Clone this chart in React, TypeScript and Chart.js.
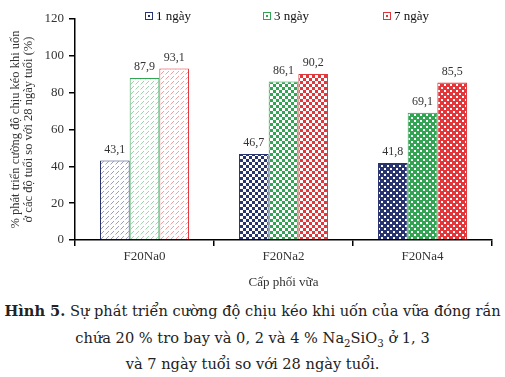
import React, { useEffect, useRef } from "react";
import { Chart, registerables } from "chart.js";

Chart.register(...registerables);

const categories = ["F20Na0", "F20Na2", "F20Na4"];
const seriesNames = ["1 ngày", "3 ngày", "7 ngày"];
const day1 = [43.1, 46.7, 41.8];
const day3 = [87.9, 86.1, 69.1];
const day7 = [93.1, 90.2, 85.5];
const yMin = 0;
const yMax = 120;
const yStep = 20;
const yTitleLines = ["% phát triển cường độ chịu kéo khi uốn", "ở các độ tuổi so với 28 ngày tuổi (%)"];
const xTitle = "Cấp phối vữa";
const seriesColors = ["#28346f", "#33a453", "#e2363b"];
const categoryPatterns = ["hatch", "checker", "dots"];

const SERIF = "'Liberation Serif', 'Times New Roman', serif";

function makePattern(color: string, kind: string): CanvasPattern | string {
  const c = document.createElement("canvas");
  const s = kind === "hatch" ? 5 : 6;
  c.width = s;
  c.height = s;
  const g = c.getContext("2d");
  if (!g) return color;
  if (kind === "hatch") {
    g.fillStyle = "#fff";
    g.fillRect(0, 0, s, s);
    g.strokeStyle = color;
    g.globalAlpha = 0.6;
    g.lineWidth = 0.8;
    g.beginPath();
    g.moveTo(0.5, s - 0.5);
    g.lineTo(s - 1, 1);
    g.stroke();
  } else if (kind === "checker") {
    g.fillStyle = color;
    g.fillRect(0, 0, s, s);
    g.fillStyle = "#fff";
    g.fillRect(0, 0, 3, 3);
    g.fillRect(3, 3, 3, 3);
  } else {
    g.fillStyle = color;
    g.fillRect(0, 0, s, s);
    g.fillStyle = "#fff";
    g.fillRect(0, 0, 2, 2);
    g.fillRect(3, 3, 2, 2);
  }
  const p = g.createPattern(c, "repeat");
  return p || color;
}

const decorPlugin = {
  id: "decor",
  afterDatasetsDraw(chart: any) {
    const ctx = chart.ctx;
    ctx.save();
    ctx.font = `12px ${SERIF}`;
    ctx.fillStyle = "#333";
    ctx.textAlign = "center";
    ctx.textBaseline = "middle";
    chart.data.datasets.forEach((ds: any, i: number) => {
      const meta = chart.getDatasetMeta(i);
      meta.data.forEach((el: any, j: number) => {
        const v = ds.data[j] as number;
        ctx.fillText(v.toFixed(1).replace(".", ","), el.x, el.y - 11);
      });
    });
    ctx.restore();
  },
  afterDraw(chart: any) {
    const ctx = chart.ctx;
    const area = chart.chartArea;
    ctx.save();
    ctx.font = `12.5px ${SERIF}`;
    ctx.fillStyle = "#333";
    ctx.textAlign = "center";
    ctx.textBaseline = "middle";
    const cy = (area.top + area.bottom) / 2;
    yTitleLines.forEach((line, k) => {
      ctx.save();
      ctx.translate(16 + k * 13, cy);
      ctx.rotate(-Math.PI / 2);
      ctx.fillText(line, 0, 0);
      ctx.restore();
    });
    ctx.font = `13px ${SERIF}`;
    ctx.fillText(xTitle, (area.left + area.right) / 2, 283);
    const offsets = [70, 188, 308];
    ctx.textAlign = "left";
    ctx.font = `13px ${SERIF}`;
    seriesNames.forEach((name, k) => {
      const x = area.left + offsets[k];
      const y = 16;
      ctx.fillStyle = "#fff";
      ctx.fillRect(x, y - 4, 8, 8);
      ctx.strokeStyle = seriesColors[k];
      ctx.lineWidth = 1;
      ctx.strokeRect(x + 0.5, y - 3.5, 7, 7);
      ctx.fillStyle = seriesColors[k];
      ctx.fillRect(x + 3, y - 1, 2, 2);
      ctx.fillStyle = "#111";
      ctx.fillText(name, x + 11, y + 0.5);
    });
    ctx.restore();
  },
};

export default function App() {
  const ref = useRef<HTMLCanvasElement | null>(null);
  useEffect(() => {
    if (!ref.current) return;
    const series = [day1, day3, day7];
    const chart = new Chart(ref.current, {
      type: "bar",
      data: {
        labels: categories,
        datasets: series.map((d, i) => ({
          label: seriesNames[i],
          data: d,
          backgroundColor: categoryPatterns.map((k) => makePattern(seriesColors[i], k)) as any,
          borderColor: seriesColors[i],
          borderWidth: 1,
          categoryPercentage: 0.64,
          barPercentage: 1,
        })),
      },
      options: {
        responsive: false,
        animation: false,
        layout: { padding: { top: 19, right: 13, left: 0, bottom: 0 } },
        plugins: {
          legend: { display: false },
          tooltip: { enabled: false },
          title: { display: false },
        },
        scales: {
          x: {
            grid: { display: true, drawOnChartArea: false, offset: true, tickLength: 6, color: "#000", lineWidth: 1.5 },
            border: { display: true, color: "#000", width: 1.5 },
            ticks: { font: { family: SERIF, size: 13 }, color: "#333", padding: 3 },
            afterFit: (s: any) => {
              s.height = 55;
            },
          },
          y: {
            min: yMin,
            max: yMax,
            ticks: { stepSize: yStep, font: { family: SERIF, size: 13 }, color: "#333", padding: 5 },
            grid: { display: true, drawOnChartArea: false, tickLength: 6, color: "#000", lineWidth: 1.5 },
            border: { display: true, color: "#000", width: 1.5 },
            afterFit: (s: any) => {
              s.width = 75;
            },
          },
        },
      },
      plugins: [decorPlugin],
    });
    return () => chart.destroy();
  }, []);

  const lineStyle: React.CSSProperties = {
    textAlign: "center",
    whiteSpace: "nowrap",
    height: 26.5,
    lineHeight: "26.5px",
  };
  return (
    <div style={{ position: "absolute", left: 0, top: 0, width: 505, height: 377, background: "#fff" }}>
      <canvas ref={ref} width={505} height={295} style={{ display: "block", width: 505, height: 295 }} />
      <div
        style={{
          position: "absolute",
          left: 0,
          top: 298,
          width: 505,
          fontFamily: "'DejaVu Serif', serif",
          fontSize: 14.6,
          color: "#222",
        }}
      >
        <div style={lineStyle}>
          <b>Hình 5.</b> Sự phát triển cường độ chịu kéo khi uốn của vữa đóng rắn
        </div>
        <div style={lineStyle}>
          chứa 20 % tro bay và 0, 2 và 4 % Na<sub style={{ fontSize: "70%", lineHeight: 0 }}>2</sub>SiO<sub style={{ fontSize: "70%", lineHeight: 0 }}>3</sub> ở 1, 3
        </div>
        <div style={lineStyle}>và 7 ngày tuổi so với 28 ngày tuổi.</div>
      </div>
    </div>
  );
}
